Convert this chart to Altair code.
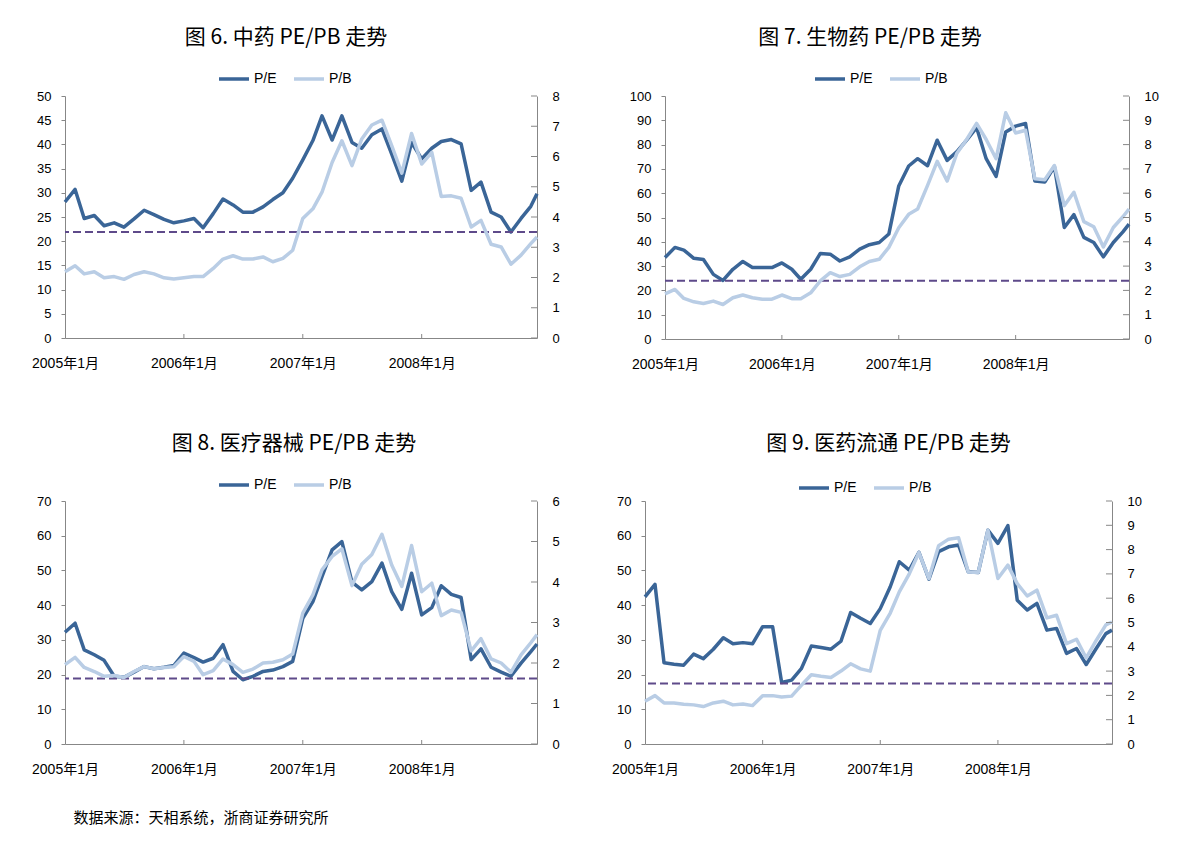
import altair as alt
import pandas as pd

DARK = "#3A6597"
LIGHT = "#B9CDE5"
AVG = "#5E4A8A"
GREY = "#878787"
NUM_FONT = "Liberation Sans, Noto Sans CJK SC"
CJK_FONT = "Noto Sans CJK SC"

# monthly observations Jan 2005 - Dec 2008, plus the final reading at the end of Dec 2008
dates = [f"{y}-{m:02d}-01" for y in range(2005, 2009) for m in range(1, 13)] + ["2008-12-20"]
year_ticks = ["2006-01-01", "2007-01-01", "2008-01-01"]

# 图6 中药
tcm_pe = [28.1, 30.7, 24.7, 25.3, 23.2, 23.8, 22.9, 24.6, 26.4, 25.5, 24.5, 23.8, 24.2, 24.7, 22.8, 25.7,
          28.7, 27.5, 26.0, 26.0, 27.1, 28.6, 30.0, 33.0, 36.8, 40.8, 45.9, 40.9, 45.9, 40.4, 39.2, 42.0,
          43.2, 38.0, 32.4, 40.4, 37.0, 39.2, 40.6, 41.0, 40.1, 30.5, 32.2, 26.0, 25.0, 21.9, 24.7, 27.2, 29.8]
tcm_pb = [2.19, 2.39, 2.12, 2.19, 1.99, 2.03, 1.94, 2.10, 2.19, 2.12, 1.99, 1.95, 1.99, 2.03, 2.03, 2.30,
          2.61, 2.72, 2.61, 2.61, 2.68, 2.52, 2.63, 2.90, 3.95, 4.27, 4.82, 5.80, 6.52, 5.70, 6.58, 7.04,
          7.20, 6.36, 5.45, 6.76, 5.75, 6.14, 4.68, 4.70, 4.62, 3.67, 3.89, 3.10, 3.01, 2.44, 2.74, 3.12, 3.34]
tcm_avg = 21.9

# 图7 生物药
bio_pe = [33.5, 37.7, 36.6, 33.2, 32.7, 26.6, 24.1, 28.7, 31.9, 29.4, 29.4, 29.4, 31.3, 28.7, 24.6, 28.7,
          35.2, 34.9, 32.1, 33.8, 37.0, 38.8, 39.7, 43.2, 63.0, 71.2, 74.2, 71.3, 81.8, 73.5, 77.0, 81.8,
          87.0, 74.2, 66.9, 85.2, 87.6, 88.7, 65.0, 64.6, 71.0, 45.9, 51.2, 41.8, 39.7, 33.8, 39.7, 44.1, 47.3]
bio_pb = [1.86, 2.04, 1.67, 1.53, 1.46, 1.56, 1.42, 1.70, 1.81, 1.70, 1.64, 1.64, 1.81, 1.66, 1.66, 1.90,
          2.39, 2.73, 2.57, 2.66, 2.97, 3.19, 3.28, 3.77, 4.58, 5.13, 5.35, 6.32, 7.31, 6.50, 7.63, 8.21,
          8.87, 8.21, 7.42, 9.31, 8.48, 8.59, 6.59, 6.55, 7.14, 5.49, 6.04, 4.83, 4.62, 3.79, 4.59, 5.03, 5.35]
bio_avg = 24.0

# 图8 医疗器械
dev_pe = [32.2, 34.8, 27.1, 25.7, 24.1, 19.5, 19.2, 20.7, 22.3, 21.7, 22.1, 22.6, 26.2, 24.9, 23.6, 24.7,
          28.6, 20.9, 18.5, 19.5, 20.9, 21.3, 22.3, 23.8, 36.2, 41.0, 48.2, 55.9, 58.3, 46.6, 44.4, 46.8,
          52.1, 43.9, 38.8, 49.2, 37.2, 39.3, 45.6, 43.1, 42.2, 24.3, 27.4, 22.1, 20.7, 19.5, 23.3, 26.6, 28.8]
dev_pb = [1.96, 2.14, 1.89, 1.79, 1.67, 1.69, 1.64, 1.79, 1.91, 1.86, 1.89, 1.91, 2.16, 2.04, 1.71, 1.81,
          2.10, 1.96, 1.77, 1.85, 2.00, 2.02, 2.08, 2.22, 3.23, 3.68, 4.30, 4.63, 4.82, 3.91, 4.44, 4.68,
          5.18, 4.42, 3.89, 4.90, 3.76, 3.97, 3.17, 3.31, 3.25, 2.30, 2.60, 2.10, 2.00, 1.77, 2.20, 2.50, 2.70]
dev_avg = 18.9

# 图9 医药流通
dis_pe = [42.4, 46.0, 23.4, 23.0, 22.7, 25.9, 24.6, 27.3, 30.6, 28.9, 29.2, 28.9, 33.8, 33.8, 17.7, 18.4,
          21.7, 28.2, 27.8, 27.3, 29.6, 37.9, 36.2, 34.7, 39.0, 45.3, 52.5, 50.1, 55.2, 47.5, 55.4, 56.8,
          57.3, 49.6, 49.4, 61.6, 57.8, 62.9, 41.4, 38.6, 40.5, 32.8, 33.3, 26.1, 27.5, 22.9, 27.5, 31.8, 32.8]
dis_pb = [1.76, 1.99, 1.69, 1.69, 1.64, 1.61, 1.54, 1.69, 1.76, 1.61, 1.65, 1.58, 1.99, 1.99, 1.93, 1.97,
          2.41, 2.85, 2.79, 2.74, 3.00, 3.30, 3.09, 3.00, 4.68, 5.39, 6.26, 7.00, 7.88, 6.81, 8.16, 8.43,
          8.49, 7.08, 7.06, 8.80, 6.81, 7.36, 6.60, 6.09, 6.33, 5.19, 5.30, 4.13, 4.31, 3.54, 4.26, 4.90, 5.02]
dis_avg = 17.4

series_names = ["P/E", "P/B"]
footnote = "数据来源：天相系统，浙商证券研究所"


def dt(y, m, d):
    return alt.DateTime(year=y, month=m, date=d, utc=True)


def panel(title, pe, pb, avg, lmax, lstep, rmax, W, H, lx, ly, tdx, toff):
    df = pd.DataFrame({"date": dates, "pe": pe, "pb": pb})
    xscale = alt.Scale(type="utc", domain=[dt(2005, 1, 1), dt(2008, 12, 20)])
    xaxis = alt.Axis(values=[dt(2005, 1, 1), dt(2006, 1, 1), dt(2007, 1, 1), dt(2008, 1, 1)],
                     labelExpr="utcFormat(datum.value, '%Y') + '年1月'",
                     tickSize=0, labelPadding=18, labelFontSize=14, title=None)
    lscale = alt.Scale(domain=[0, lmax], nice=False, zero=True)
    rscale = alt.Scale(domain=[0, rmax], nice=False, zero=True)
    lvals = list(range(0, lmax + 1, lstep))
    rvals = list(range(0, rmax + 1))
    cscale = alt.Scale(domain=series_names, range=[DARK, LIGHT])
    leg = alt.Legend(orient="none", legendX=lx, legendY=ly, direction="horizontal", title=None,
                     symbolType="stroke", symbolSize=900, symbolStrokeWidth=3.5,
                     labelFont=NUM_FONT, labelFontSize=14, labelOffset=3, columnPadding=10,
                     padding=0, labelColor="#000000")

    base = alt.Chart(df)
    x_enc = alt.X("date:T", scale=xscale, axis=xaxis)
    dark = base.transform_calculate(series="'P/E'").mark_line(strokeWidth=3.5, strokeJoin="round").encode(
        x=x_enc,
        y=alt.Y("pe:Q", scale=lscale, title=None,
                axis=alt.Axis(orient="left", values=lvals, tickSize=4, labelPadding=10)),
        color=alt.Color("series:N", scale=cscale, legend=leg),
    )
    avg_line = alt.Chart(pd.DataFrame({"avg": [avg]})).mark_rule(
        color=AVG, strokeWidth=2, strokeDash=[8, 4]).encode(
        y=alt.Y("avg:Q", scale=lscale, axis=None))
    light = base.transform_calculate(series="'P/B'").mark_line(strokeWidth=3.5, strokeJoin="round").encode(
        x=x_enc,
        y=alt.Y("pb:Q", scale=rscale, title=None,
                axis=alt.Axis(orient="right", values=rvals, tickSize=0, labelPadding=15)),
        color=alt.Color("series:N", scale=cscale, legend=leg),
    )
    xt = alt.Chart(pd.DataFrame({"date": year_ticks})).mark_rule(color=GREY).encode(
        x=x_enc,
        y=alt.value(H - 4), y2=alt.value(H))
    rt = alt.Chart(pd.DataFrame({"rt": rvals})).mark_rule(color=GREY).encode(
        y=alt.Y("rt:Q", scale=rscale, axis=None),
        x=alt.value(W - 6), x2=alt.value(W))
    return alt.layer(dark, avg_line, light, xt, rt).resolve_scale(y="independent").properties(
        width=W, height=H,
        title=alt.TitleParams(text=title, font=CJK_FONT, fontSize=21, fontWeight="normal",
                              color="#000000", anchor="middle", frame="group", dx=tdx, offset=toff))


p1 = panel("图 6. 中药 PE/PB 走势", tcm_pe, tcm_pb, tcm_avg, 50, 5, 8, 472, 242, 152, -34, -15, 14)
p2 = panel("图 7. 生物药 PE/PB 走势", bio_pe, bio_pb, bio_avg, 100, 10, 10, 464, 243, 148, -34, -27, 14)
p3 = panel("图 8. 医疗器械 PE/PB 走势", dev_pe, dev_pb, dev_avg, 70, 10, 6, 472, 243, 152, -33, -7, 14)
p4 = panel("图 9. 医药流通 PE/PB 走势", dis_pe, dis_pb, dis_avg, 70, 10, 10, 467, 243, 152, -30, 10, 17)

row1 = alt.hconcat(p1, p2, spacing=128, bounds="flush").resolve_scale(
    color="independent", x="independent").resolve_legend(color="independent")
row2 = alt.hconcat(p3, p4, spacing=108, bounds="flush").resolve_scale(
    color="independent", x="independent").resolve_legend(color="independent")

chart = alt.vconcat(row1, row2, spacing=62).resolve_scale(
    color="independent", x="independent").resolve_legend(color="independent").properties(
    padding={"left": 23, "top": 19, "right": 5, "bottom": 5},
    title=alt.TitleParams(text=footnote, orient="bottom", anchor="start", frame="bounds", dx=42,
                          offset=35, font=CJK_FONT, fontSize=15, fontWeight="normal", color="#000000"),
).configure_view(stroke=None).configure_axis(
    domainColor=GREY, tickColor=GREY, domainWidth=1, tickWidth=1, grid=False,
    labelFont=NUM_FONT, labelFontSize=13, labelColor="#000000",
    labelFlush=False, labelOverlap=False,
)

chart.save("out.html", embed_options={"renderer": "svg", "actions": False})
